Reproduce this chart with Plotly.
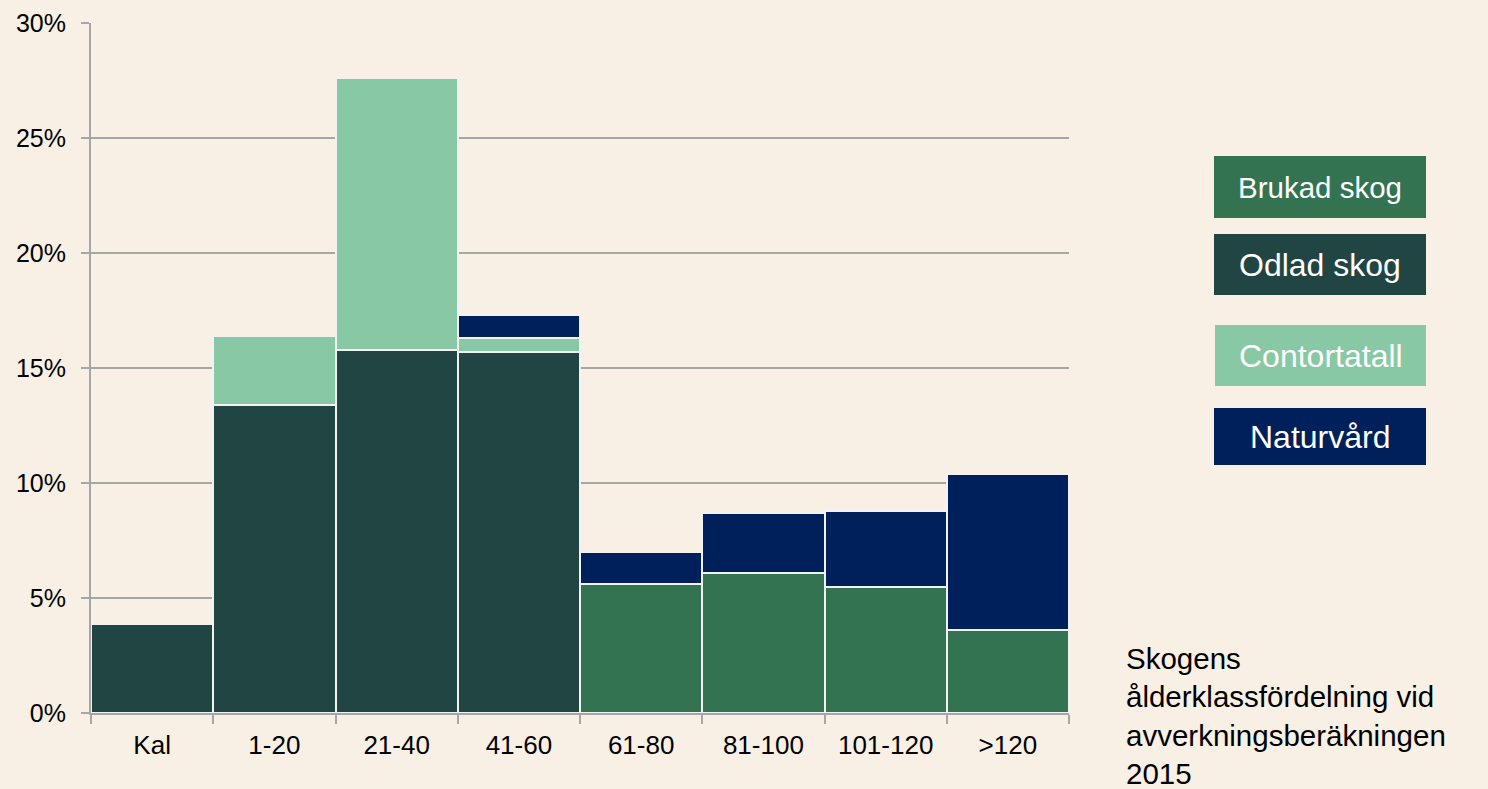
import plotly.graph_objects as go

categories = ["Kal", "1-20", "21-40", "41-60", "61-80", "81-100", "101-120", ">120"]
odlad_skog = [3.85, 13.4, 15.8, 15.7, None, None, None, None]
brukad_skog = [None, None, None, None, 5.6, 6.1, 5.5, 3.6]
contortatall = [None, 3.0, 11.8, 0.6, None, None, None, None]
naturvard = [None, None, None, 1.0, 1.4, 2.6, 3.3, 6.8]

y_ticks = [0, 5, 10, 15, 20, 25, 30]
y_tick_labels = ["0%", "5%", "10%", "15%", "20%", "25%", "30%"]

legend_names = ["Brukad skog", "Odlad skog", "Contortatall", "Naturvård"]

C_BRUKAD = "#337352"
C_ODLAD = "#214543"
C_CONTORTA = "#88C8A4"
C_NATUR = "#00205B"
BG = "#F8F0E4"

W, H = 1488, 789
L, R, T, B = 91, 1069, 23, 713


def px_x(p):
    return (p - L) / (R - L)


def px_y(p):
    return (B - p) / (B - T)


fig = go.Figure()
line = dict(color="#F2F2F2", width=2)
for name, vals, col in [
    ("Odlad skog", odlad_skog, C_ODLAD),
    ("Brukad skog", brukad_skog, C_BRUKAD),
    ("Contortatall", contortatall, C_CONTORTA),
    ("Naturvård", naturvard, C_NATUR),
]:
    fig.add_trace(go.Bar(x=categories, y=vals, name=name, marker=dict(color=col, line=line),
                         showlegend=False))

fig.update_layout(
    width=W, height=H,
    barmode="stack", bargap=0,
    paper_bgcolor=BG, plot_bgcolor=BG,
    margin=dict(l=L, r=W - R, t=T, b=H - B, autoexpand=False),
    font=dict(family="Liberation Sans, Arial, sans-serif", size=26, color="#000000"),
    xaxis=dict(
        type="category", tickson="boundaries", ticks="outside", ticklen=9,
        tickcolor="#A6A6A6", tickwidth=2, showline=True, linecolor="#A6A6A6", linewidth=2,
        showgrid=False, tickfont=dict(size=26), ticklabelstandoff=8,
    ),
    yaxis=dict(
        range=[0, 30], tickvals=y_ticks, ticktext=y_tick_labels, ticks="outside",
        ticklen=8, tickcolor="#A6A6A6", tickwidth=2, showline=True, linecolor="#A6A6A6",
        linewidth=2, showgrid=True, gridcolor="#A6A6A6", gridwidth=1.5, zeroline=False,
        tickfont=dict(size=25), ticklabelstandoff=10,
    ),
)

boxes = [
    (legend_names[0], C_BRUKAD, 1214, 1426, 156, 218, 29.5),
    (legend_names[1], C_ODLAD, 1214, 1426, 234, 295, 32),
    (legend_names[2], C_CONTORTA, 1215, 1426, 325, 386, 32),
    (legend_names[3], C_NATUR, 1214, 1426, 408, 465, 32),
]
for text, col, x0, x1, y0, y1, fs in boxes:
    fig.add_shape(type="rect", xref="paper", yref="paper",
                  x0=px_x(x0), x1=px_x(x1), y0=px_y(y1), y1=px_y(y0),
                  fillcolor=col, line=dict(width=0), layer="above")
    fig.add_annotation(xref="paper", yref="paper", x=px_x((x0 + x1) / 2), y=px_y((y0 + y1) / 2),
                       text=text, showarrow=False, font=dict(size=fs, color="#FFFFFF"),
                       xanchor="center", yanchor="middle")

fig.add_annotation(xref="paper", yref="paper", x=px_x(1124), y=px_y(640),
                   text="Skogens<br>ålderklassfördelning vid<br>avverkningsberäkningen<br>2015",
                   showarrow=False, align="left", xanchor="left", yanchor="top",
                   font=dict(size=29.5, color="#000000"))

fig.write_html("out.html", config={"displayModeBar": False},
               post_script="document.body.style.margin='0';document.body.style.background='" + BG + "';")
